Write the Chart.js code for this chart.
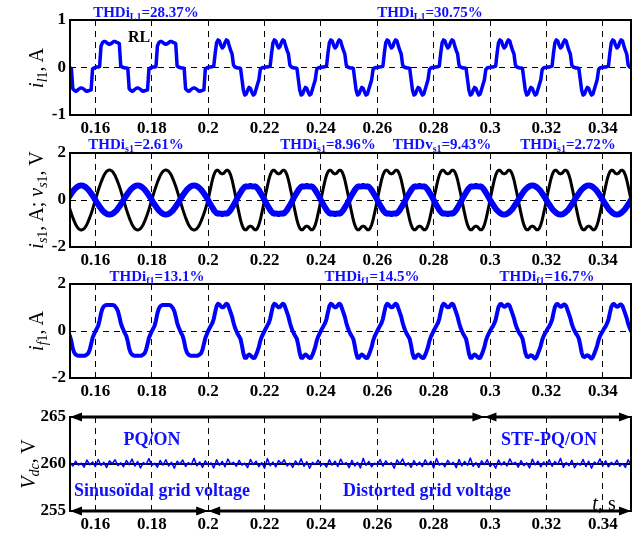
<!DOCTYPE html>
<html>
<head>
<meta charset="utf-8">
<script src="https://cdn.jsdelivr.net/npm/chart.js"></script>
<style>
html, body { margin: 0; padding: 0; background: #fff; }
#wrap { position: relative; width: 632px; height: 534px; overflow: hidden; font-family: 'Liberation Serif', 'Times New Roman', serif; }
canvas { position: absolute; left: 0; }
.lbl { position: absolute; transform: translate(-50%, -50%); white-space: nowrap; font-weight: bold; color: #1010ff; line-height: 1; }
.thd { font-size: 15px; }
.thd sub { font-size: 10px; vertical-align: -3px; line-height: 1; }
.note { font-size: 18px; }
.ytitle { position: absolute; transform: translate(-50%, -50%) rotate(-90deg); white-space: nowrap; font-size: 20px; color: #000; line-height: 1; }
.ytitle sub { font-size: 14px; vertical-align: -4px; line-height: 1; }
</style>
</head>
<body>
<div id="wrap">
  <canvas id="c1"></canvas>
  <canvas id="c2"></canvas>
  <canvas id="c3"></canvas>
  <canvas id="c4"></canvas>

  <div class="lbl thd" style="left:146px;top:13px">THDi<sub>L1</sub>=28.37%</div>
  <div class="lbl thd" style="left:430px;top:13px">THDi<sub>L1</sub>=30.75%</div>
  <div class="lbl" style="left:139px;top:37px;font-size:16px;color:#000">RL</div>

  <div class="lbl thd" style="left:136px;top:145px">THDi<sub>s1</sub>=2.61%</div>
  <div class="lbl thd" style="left:328px;top:145px">THDi<sub>s1</sub>=8.96%</div>
  <div class="lbl thd" style="left:442px;top:145px">THDv<sub>s1</sub>=9.43%</div>
  <div class="lbl thd" style="left:568px;top:145px">THDi<sub>s1</sub>=2.72%</div>

  <div class="lbl thd" style="left:157px;top:277px">THDi<sub>f1</sub>=13.1%</div>
  <div class="lbl thd" style="left:372px;top:277px">THDi<sub>f1</sub>=14.5%</div>
  <div class="lbl thd" style="left:547px;top:277px">THDi<sub>f1</sub>=16.7%</div>

  <div class="lbl note" style="left:152px;top:439px">PQ/ON</div>
  <div class="lbl note" style="left:549px;top:439px">STF-PQ/ON</div>
  <div class="lbl note" style="left:162px;top:490px">Sinusoïdal grid voltage</div>
  <div class="lbl note" style="left:427px;top:490px">Distorted grid voltage</div>
  <div class="lbl" style="left:604px;top:503px;font-size:20px;font-weight:normal;color:#000"><i>t</i>, s</div>

  <div class="ytitle" style="left:38px;top:68px"><i>i</i><sub><i>l</i>1</sub>, A</div>
  <div class="ytitle" style="left:38px;top:200px"><i>i</i><sub><i>s</i>1</sub>, A; <i>v</i><sub><i>s</i>1</sub>, V</div>
  <div class="ytitle" style="left:38px;top:331px"><i>i</i><sub><i>f</i>1</sub>, A</div>
  <div class="ytitle" style="left:30px;top:464px"><i>V</i><sub><i>dc</i></sub>, V</div>
</div>

<script>
// time axis
const xMin = 0.151, xMax = 0.35;
const xTicks = [0.16, 0.18, 0.2, 0.22, 0.24, 0.26, 0.28, 0.3, 0.32, 0.34];
const xTickLabels = ['0.16', '0.18', '0.2', '0.22', '0.24', '0.26', '0.28', '0.3', '0.32', '0.34'];

// one 50 Hz cycle is sampled every 0.5 ms; each cycle starts at these times
const cycleStarts = [0.14, 0.16, 0.18, 0.20, 0.22, 0.24, 0.26, 0.28, 0.30, 0.32, 0.34];
const gridVoltage = ['sin', 'sin', 'sin', 'dist', 'dist', 'dist', 'dist', 'dist', 'dist', 'dist', 'dist'];
const filterMode  = ['pq', 'pq', 'pq', 'pq', 'pq', 'pq', 'pq', 'pq', 'stf', 'stf', 'stf'];
const phaseMs = [0, 0.5, 1, 1.5, 2, 2.5, 3, 3.5, 4, 4.5, 5, 5.5, 6, 6.5, 7, 7.5, 8, 8.5, 9, 9.5,
                 10, 10.5, 11, 11.5, 12, 12.5, 13, 13.5, 14, 14.5, 15, 15.5, 16, 16.5, 17, 17.5, 18, 18.5, 19, 19.5];

// load current i_l1 (A)
const il1Sin  = [0.00, 0.01, 0.01, 0.02, 0.45, 0.52, 0.55, 0.55, 0.52, 0.50, 0.49, 0.50, 0.52, 0.55, 0.55, 0.53, 0.52, 0.50, 0.03, 0.01,
                 0.00, -0.01, -0.01, -0.02, -0.45, -0.48, -0.50, -0.49, -0.46, -0.44, -0.43, -0.44, -0.46, -0.49, -0.50, -0.49, -0.48, -0.47, -0.03, -0.01];
const il1Dist = [0.00, 0.01, 0.01, 0.02, 0.03, 0.30, 0.52, 0.58, 0.56, 0.47, 0.41, 0.44, 0.53, 0.58, 0.56, 0.45, 0.36, 0.28, 0.05, 0.01,
                 0.00, -0.01, -0.01, -0.02, -0.25, -0.48, -0.58, -0.56, -0.48, -0.42, -0.44, -0.52, -0.58, -0.56, -0.46, -0.36, -0.26, -0.04, -0.01, 0.00];

// grid voltage v_s1 (scaled)
const vs1Sin  = [0, 0.20, 0.40, 0.58, 0.75, 0.90, 1.04, 1.14, 1.22, 1.26, 1.28, 1.26, 1.22, 1.14, 1.04, 0.90, 0.75, 0.58, 0.40, 0.20,
                 0, -0.20, -0.40, -0.58, -0.75, -0.90, -1.04, -1.14, -1.22, -1.26, -1.28, -1.26, -1.22, -1.14, -1.04, -0.90, -0.75, -0.58, -0.40, -0.20];
const vs1Dist = [0, 0.30, 0.58, 0.85, 1.06, 1.20, 1.27, 1.27, 1.20, 1.13, 1.11, 1.13, 1.20, 1.27, 1.27, 1.20, 1.06, 0.85, 0.58, 0.30,
                 0, -0.30, -0.58, -0.85, -1.06, -1.20, -1.27, -1.27, -1.20, -1.13, -1.11, -1.13, -1.20, -1.27, -1.27, -1.20, -1.06, -0.85, -0.58, -0.30];

// source current i_s1 (A)
const is1Sin    = [0, -0.10, -0.19, -0.28, -0.36, -0.44, -0.50, -0.55, -0.59, -0.61, -0.62, -0.61, -0.59, -0.55, -0.50, -0.44, -0.36, -0.28, -0.19, -0.10,
                   0, 0.10, 0.19, 0.28, 0.36, 0.44, 0.50, 0.55, 0.59, 0.61, 0.62, 0.61, 0.59, 0.55, 0.50, 0.44, 0.36, 0.28, 0.19, 0.10];
const is1PqDist = [0, -0.12, -0.22, -0.32, -0.42, -0.50, -0.56, -0.58, -0.57, -0.58, -0.60, -0.58, -0.57, -0.58, -0.56, -0.50, -0.42, -0.32, -0.22, -0.12,
                   0, 0.12, 0.22, 0.32, 0.42, 0.50, 0.56, 0.58, 0.57, 0.58, 0.60, 0.58, 0.57, 0.58, 0.56, 0.50, 0.42, 0.32, 0.22, 0.12];
const is1Stf    = [0, -0.10, -0.19, -0.28, -0.37, -0.44, -0.50, -0.55, -0.59, -0.61, -0.62, -0.61, -0.59, -0.55, -0.50, -0.44, -0.37, -0.28, -0.19, -0.10,
                   0, 0.10, 0.19, 0.28, 0.37, 0.44, 0.50, 0.55, 0.59, 0.61, 0.62, 0.61, 0.59, 0.55, 0.50, 0.44, 0.37, 0.28, 0.19, 0.10];

// filter current i_f1 (A)
const if1Sin    = [-0.02, 0.10, 0.22, 0.45, 0.75, 0.95, 1.05, 1.09, 1.11, 1.11, 1.11, 1.11, 1.11, 1.10, 1.05, 0.97, 0.85, 0.62, 0.35, 0.17,
                   0.03, -0.10, -0.22, -0.45, -0.75, -0.92, -1.00, -1.04, -1.05, -1.05, -1.05, -1.05, -1.05, -1.04, -1.00, -0.95, -0.80, -0.55, -0.30, -0.15];
const if1PqDist = [0.00, 0.12, 0.23, 0.34, 0.52, 0.80, 1.06, 1.16, 1.13, 1.05, 1.01, 1.02, 1.10, 1.16, 1.12, 0.95, 0.78, 0.60, 0.35, 0.15,
                   0.00, -0.13, -0.23, -0.34, -0.62, -0.95, -1.14, -1.14, -1.05, -1.00, -1.04, -1.10, -1.15, -1.14, -1.02, -0.86, -0.68, -0.42, -0.25, -0.12];
const if1Stf    = [0.00, 0.11, 0.20, 0.32, 0.48, 0.76, 1.02, 1.13, 1.15, 1.08, 1.03, 1.05, 1.12, 1.13, 1.06, 0.89, 0.72, 0.54, 0.30, 0.13,
                   0.00, -0.11, -0.20, -0.32, -0.60, -0.92, -1.08, -1.11, -1.07, -1.03, -1.06, -1.13, -1.17, -1.11, -0.96, -0.80, -0.62, -0.38, -0.22, -0.10];

// DC-link voltage, one sample per ms from 0.151 s
const vdcStart = 0.151, vdcStep = 0.001;
const vdcValues = [
  260.15, 259.78, 260.30, 259.88, 260.08, 259.67, 260.42, 259.92, 260.22, 259.73,
  260.48, 259.85, 260.18, 259.62, 260.33, 260.03, 260.45, 259.82, 260.12, 259.70,
  260.38, 259.92, 260.52, 259.78, 260.27, 259.58, 260.15, 259.97, 260.57, 259.85,
  260.08, 259.67, 260.38, 259.88, 260.45, 259.78, 260.18, 259.55, 260.30, 260.00,
  260.42, 259.73, 260.15, 259.92, 260.60, 259.82, 260.22, 259.64, 260.33, 259.91,
  260.12, 259.58, 260.45, 259.85, 260.27, 259.70, 260.52, 260.00, 260.18, 259.76,
  260.39, 259.88, 260.08, 259.61, 260.48, 259.94, 260.30, 259.73, 260.15, 259.55,
  260.57, 259.82, 260.21, 259.70, 260.36, 260.03, 260.45, 259.79, 260.09, 259.64,
  260.33, 259.91, 260.54, 259.76, 260.24, 259.55, 260.18, 259.94, 260.42, 259.85,
  260.06, 259.67, 260.45, 259.88, 260.30, 259.73, 260.51, 259.97, 260.15, 259.61,
  260.39, 259.79, 260.18, 259.58, 260.60, 259.85, 260.27, 259.70, 260.09, 259.91,
  260.48, 259.76, 260.33, 259.94, 260.15, 259.55, 260.42, 260.00, 260.54, 259.82,
  260.12, 259.64, 260.36, 259.85, 260.21, 259.73, 260.45, 259.91, 260.30, 259.58,
  260.57, 259.88, 260.09, 259.70, 260.39, 259.97, 260.18, 259.61, 260.48, 259.79,
  260.27, 259.85, 260.63, 259.76, 260.15, 259.64, 260.33, 259.94, 260.45, 259.73,
  260.06, 259.55, 260.42, 259.88, 260.24, 259.79, 260.54, 260.00, 260.18, 259.67,
  260.36, 259.82, 260.12, 259.58, 260.51, 259.91, 260.30, 259.70, 260.21, 259.85,
  260.45, 259.76, 260.27, 259.94, 260.60, 259.64, 260.15, 259.82, 260.39, 259.61,
  260.09, 259.88, 260.48, 259.73, 260.30, 259.55, 260.21, 259.97, 260.54, 259.79,
  260.33, 259.70, 260.18, 259.91, 260.42, 259.76, 260.06, 259.64, 260.45, 259.88
];
const vdcRef = 260;

// operating-mode arrows on the Vdc panel
const modeSpans = [[0.151, 0.298], [0.298, 0.35]];
const modeLevel = 265;
const gridSpans = [[0.151, 0.2], [0.2, 0.35]];
const gridLevel = 255;

const BLUE = '#0000ff';
const FONT = "'Liberation Serif', 'Times New Roman', serif";

function periodic(pick) {
  var pts = [];
  cycleStarts.forEach(function(t0, c) {
    var arr = pick(c);
    phaseMs.forEach(function(p, i) { pts.push({ x: t0 + p / 1000, y: arr[i] }); });
  });
  return pts;
}

var il1Data = periodic(function(c) { return gridVoltage[c] === 'sin' ? il1Sin : il1Dist; });
var vs1Data = periodic(function(c) { return gridVoltage[c] === 'sin' ? vs1Sin : vs1Dist; });
var is1Data = periodic(function(c) {
  if (gridVoltage[c] === 'sin') return is1Sin;
  return filterMode[c] === 'stf' ? is1Stf : is1PqDist;
});
var if1Data = periodic(function(c) {
  if (gridVoltage[c] === 'sin') return if1Sin;
  return filterMode[c] === 'stf' ? if1Stf : if1PqDist;
});
var vdcData = vdcValues.map(function(v, i) { return { x: vdcStart + i * vdcStep, y: v }; });
var vdcRefData = [{ x: xMin, y: vdcRef }, { x: xMax, y: vdcRef }];

function drawArrow(ctx, x1, x2, y) {
  var L = 12, H = 4.5;
  ctx.beginPath();
  ctx.moveTo(x1 + L - 2, y); ctx.lineTo(x2 - L + 2, y);
  ctx.lineWidth = 3; ctx.stroke();
  ctx.beginPath();
  ctx.moveTo(x1, y); ctx.lineTo(x1 + L, y - H); ctx.lineTo(x1 + L, y + H); ctx.closePath();
  ctx.moveTo(x2, y); ctx.lineTo(x2 - L, y - H); ctx.lineTo(x2 - L, y + H); ctx.closePath();
  ctx.fill();
}

function framePlugin(arrowSets) {
  return {
    id: 'frame',
    afterDraw: function(chart) {
      var ctx = chart.ctx, a = chart.chartArea, sx = chart.scales.x, sy = chart.scales.y;
      ctx.save();
      ctx.strokeStyle = '#000'; ctx.fillStyle = '#000';
      (arrowSets || []).forEach(function(set) {
        var y = sy.getPixelForValue(set.level);
        set.spans.forEach(function(s) {
          drawArrow(ctx, sx.getPixelForValue(s[0]), sx.getPixelForValue(s[1]), y);
        });
      });
      ctx.lineWidth = 2;
      ctx.strokeRect(a.left, a.top, a.right - a.left, a.bottom - a.top);
      ctx.restore();
    }
  };
}

function panel(id, top, height, padBottom, yMin, yMax, yTicks, yLabels, zeroLine, datasets, arrowSets) {
  var cv = document.getElementById(id);
  cv.style.top = top + 'px';
  cv.width = 632; cv.height = height;
  var tickFont = { family: FONT, size: 17, weight: 'bold' };
  return new Chart(cv, {
    type: 'line',
    data: { datasets: datasets },
    options: {
      responsive: false,
      animation: false,
      devicePixelRatio: 1,
      layout: { padding: { top: 20, bottom: padBottom, left: 0, right: 1 } },
      plugins: { legend: { display: false }, tooltip: { enabled: false } },
      elements: { point: { radius: 0 }, line: { tension: 0, borderJoinStyle: 'round', borderCapStyle: 'round' } },
      scales: {
        x: {
          type: 'linear', min: xMin, max: xMax,
          afterBuildTicks: function(s) { s.ticks = xTicks.map(function(v) { return { value: v }; }); },
          afterFit: function(s) { s.height = 22; },
          ticks: { color: '#000', font: tickFont, padding: 3, maxRotation: 0, autoSkip: false,
                   callback: function(v, i) { return xTickLabels[i]; } },
          grid: { color: '#000', lineWidth: 1, drawTicks: false },
          border: { display: false, dash: [6, 5] }
        },
        y: {
          min: yMin, max: yMax,
          afterBuildTicks: function(s) { s.ticks = yTicks.map(function(v) { return { value: v }; }); },
          afterFit: function(s) { s.width = 70; },
          ticks: { color: '#000', font: tickFont, padding: 4,
                   callback: function(v, i) { return yLabels[i]; } },
          grid: { display: zeroLine !== null, drawTicks: false, lineWidth: 1,
                  color: function(c) { return c.tick && c.tick.value === zeroLine ? '#000' : 'rgba(0,0,0,0)'; } },
          border: { display: false, dash: [6, 5] }
        }
      }
    },
    plugins: [framePlugin(arrowSets)]
  });
}

panel('c1', 0, 140, 3, -1, 1, [-1, 0, 1], ['-1', '0', '1'], 0, [
  { data: il1Data, borderColor: BLUE, borderWidth: 3.5, clip: 0 }
]);

panel('c2', 133, 139, 3, -2, 2, [-2, 0, 2], ['-2', '0', '2'], 0, [
  { data: is1Data, borderColor: BLUE, borderWidth: 6, clip: 0 },
  { data: vs1Data, borderColor: '#000', borderWidth: 3, clip: 0 }
]);

panel('c3', 264, 139, 3, -2, 2, [-2, 0, 2], ['-2', '0', '2'], 0, [
  { data: if1Data, borderColor: BLUE, borderWidth: 4, clip: 0 }
]);

panel('c4', 397, 137, 1, 255, 265, [255, 260, 265], ['255', '260', '265'], null, [
  { data: vdcData, borderColor: BLUE, borderWidth: 1.5, clip: 0 },
  { data: vdcRefData, borderColor: '#000', borderWidth: 2, clip: 0 }
], [
  { level: modeLevel, spans: modeSpans },
  { level: gridLevel, spans: gridSpans }
]);
</script>
</body>
</html>
